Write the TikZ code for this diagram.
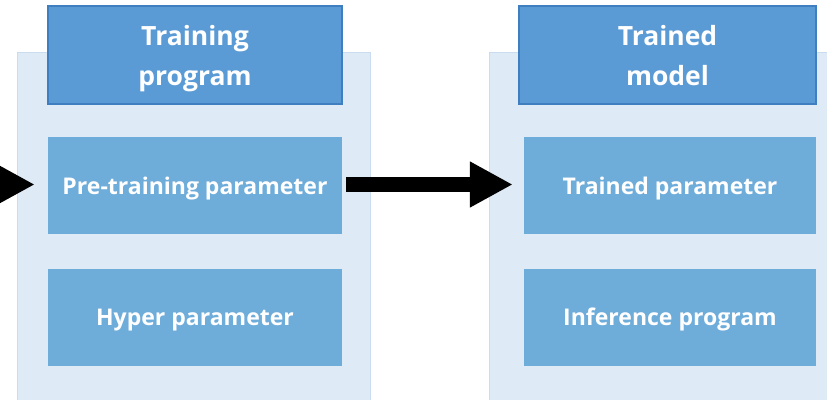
\documentclass[tikz,border=0pt]{standalone}
\usepackage{fontspec}
\setmainfont{Open Sans}
\usetikzlibrary{arrows.meta}
\definecolor{panelfill}{HTML}{DEEAF6}
\definecolor{panelline}{HTML}{CADCF0}
\definecolor{headfill}{HTML}{5B9BD5}
\definecolor{headline}{HTML}{3F7FBF}
\definecolor{itemfill}{HTML}{6EACDA}
\tikzset{
  panel/.style={draw=panelline, line width=1.2pt, fill=panelfill, inner sep=0pt},
  header/.style={draw=headline, line width=2pt, fill=headfill, text=white,
    minimum width=294pt, minimum height=98pt, inner sep=0pt, align=center,
    text depth=0pt, font=\fontsize{26.5}{40}\selectfont\bfseries},
  item/.style={fill=itemfill, text=white, inner sep=0pt,
    minimum width=294pt, minimum height=97pt, text depth=0pt,
    font=\fontsize{23}{26}\selectfont\bfseries},
  flow/.style={line width=15pt, -{Triangle[length=43pt, width=43pt]}}
}
\begin{document}
\begin{tikzpicture}[x=1pt, y=-1pt]
\useasboundingbox (0,0) rectangle (827,399);
% background panels
\node[panel, minimum width=353pt, minimum height=352pt, anchor=north west] (leftpanel) at (17,52) {};
\node[panel, minimum width=345pt, minimum height=352pt, anchor=north west] (rightpanel) at (489,52) {};
% left column
\node[header] (trainprog) at (195,55) {Training\\program};
\node[item] (pretrain) at (195,185.5) {Pre-training parameter};
\node[item] (hyper) at (195,317) {Hyper parameter};
% right column
\node[header, minimum width=297pt] (trainmodel) at (667.5,55) {Trained\\model};
\node[item, minimum width=292pt] (trainedparam) at (670,185.5) {Trained parameter};
\node[item, minimum width=292pt] (inference) at (670,317) {Inference program};
% arrows
\coordinate (incoming) at (-80,184.5);
\draw[flow, shorten >=13pt] (incoming) -- (pretrain.west |- incoming);
\draw[flow, shorten <=4pt, shorten >=11pt] (pretrain.east |- incoming) -- (trainedparam.west |- incoming);
\end{tikzpicture}
\end{document}
